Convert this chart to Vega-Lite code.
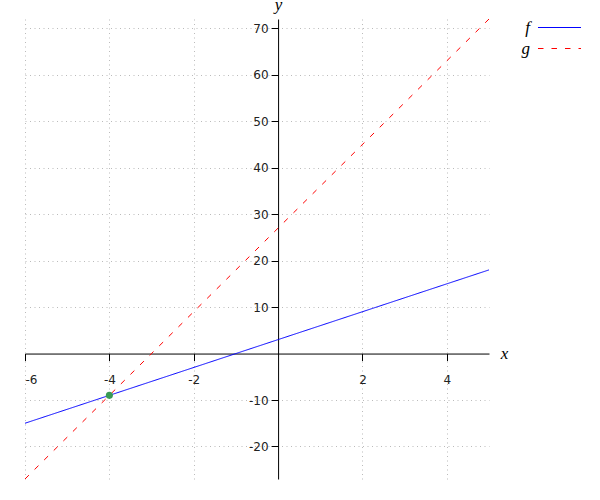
{
  "$schema": "https://vega.github.io/schema/vega-lite/v6.json",
  "width": 464,
  "height": 460,
  "autosize": "none",
  "padding": {"left": 25, "top": 19, "right": 111, "bottom": 21},
  "background": "white",
  "config": {
    "view": {"stroke": null},
    "axis": {
      "labelFont": "DejaVu Sans",
      "labelFontSize": 12,
      "labelColor": "#222",
      "domainColor": "#000",
      "tickColor": "#000",
      "gridColor": "#bbbbbb",
      "gridDash": [1, 3.5],
      "titleFont": "Liberation Serif",
      "titleFontStyle": "italic",
      "titleFontWeight": "normal",
      "titleFontSize": 17,
      "titleColor": "#000"
    },
    "legend": {
      "padding": 0,
      "symbolType": "M-4,0H4",
      "symbolSize": 115.6,
      "symbolStrokeWidth": 1,
      "labelFont": "Liberation Serif",
      "labelFontStyle": "italic",
      "labelFontSize": 17,
      "labelColor": "#000",
      "rowPadding": 3,
      "labelAlign": "right",
      "labelOffset": -38
    }
  },
  "resolve": {"axis": {"x": "independent", "y": "independent"}},
  "layer": [
    {
      "data": {
        "values": [
          {"x": -6, "y": -15, "series": "f"},
          {"x": 5, "y": 18, "series": "f"},
          {"x": -6, "y": -27, "series": "g"},
          {"x": 5, "y": 72, "series": "g"}
        ]
      },
      "mark": {"type": "line", "strokeWidth": 1},
      "encoding": {
        "x": {
          "field": "x", "type": "quantitative",
          "scale": {"domain": [-6, 5], "nice": false, "zero": false},
          "axis": {"orient": "bottom", "grid": true, "domain": false, "ticks": false, "labels": false, "title": null, "values": [-6, -4, -2, 2, 4]}
        },
        "y": {
          "field": "y", "type": "quantitative",
          "scale": {"domain": [-27, 72], "nice": false, "zero": false},
          "axis": {"orient": "left", "grid": true, "domain": false, "ticks": false, "labels": false, "title": null, "values": [-20, -10, 10, 20, 30, 40, 50, 60, 70]}
        },
        "color": {
          "field": "series", "type": "nominal",
          "scale": {"domain": ["f", "g"], "range": ["#0000ff", "#ff0000"]},
          "legend": {
            "title": null, "orient": "none", "legendX": 526, "legendY": 0,
            "encode": {"symbols": {"update": {"stroke": {"scale": "color", "field": "value"}, "strokeOpacity": {"value": 1}}}}
          }
        },
        "strokeDash": {
          "field": "series", "type": "nominal",
          "scale": {"domain": ["f", "g"], "range": [[1, 0], [5.5, 8]]},
          "legend": {
            "title": null, "orient": "none", "legendX": 526, "legendY": 0,
            "encode": {"symbols": {"update": {"stroke": {"scale": "color", "field": "value"}, "strokeOpacity": {"value": 1}}}}
          }
        }
      }
    },
    {
      "data": {"values": [{"x": -4, "y": -9}]},
      "mark": {"type": "point", "filled": true, "color": "#3a9a55", "size": 50, "opacity": 1},
      "encoding": {
        "x": {
          "field": "x", "type": "quantitative",
          "scale": {"domain": [-6, 5], "nice": false, "zero": false},
          "axis": {
            "orient": "bottom", "grid": false, "offset": -125.45, "values": [-6, -4, -2, 2, 4],
            "labelExpr": "datum.value + ''",
            "tickSize": 7, "labelPadding": 14, "title": "x",
            "titleX": 479, "titleY": 5, "titleAlign": "center", "titleBaseline": "alphabetic", "titleAnchor": null
          }
        },
        "y": {
          "field": "y", "type": "quantitative",
          "scale": {"domain": [-27, 72], "nice": false, "zero": false},
          "axis": {
            "orient": "left", "grid": false, "offset": -253.09, "values": [-20, -10, 10, 20, 30, 40, 50, 60, 70],
            "labelExpr": "datum.value + ''",
            "tickSize": 7, "labelPadding": 3, "title": "y",
            "titleAngle": 0, "titleX": 0, "titleY": -10, "titleAlign": "center", "titleBaseline": "alphabetic"
          }
        }
      }
    }
  ]
}
